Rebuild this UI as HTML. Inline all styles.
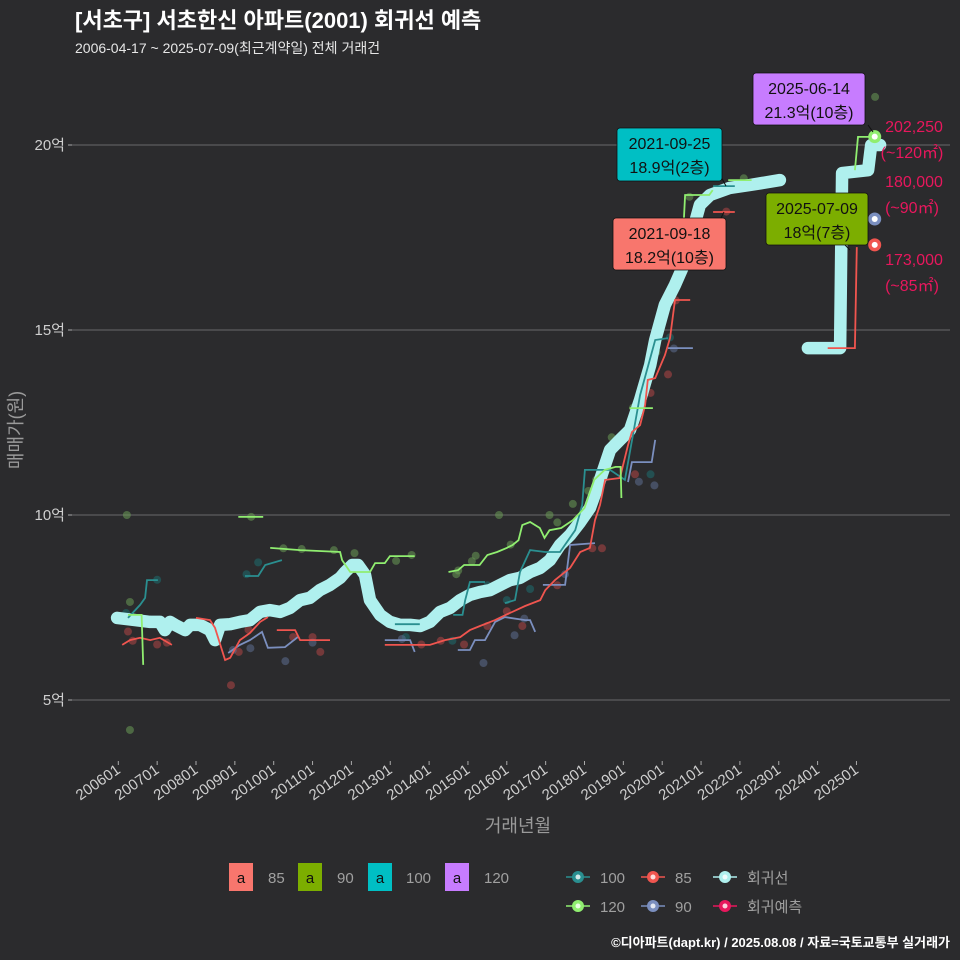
<!DOCTYPE html>
<html><head><meta charset="utf-8">
<style>
html,body{margin:0;padding:0;background:#2b2b2d;}
svg{display:block;font-family:"Liberation Sans","Noto Sans CJK KR",sans-serif;}
</style></head>
<body>
<svg id="chart" width="960" height="960" viewBox="0 0 960 960" xmlns="http://www.w3.org/2000/svg">
<rect x="0" y="0" width="960" height="960" fill="#2b2b2d"/>
<text x="75" y="28" fill="#ffffff" font-size="22" font-weight="bold">[서초구] 서초한신 아파트(2001) 회귀선 예측</text>
<text x="75" y="53" fill="#e6e6e6" font-size="14">2006-04-17 ~ 2025-07-09(최근계약일) 전체 거래건</text>
<g id="grid"></g>
<g id="series"></g>
<g id="ann"></g>
<text transform="translate(22,430) rotate(-90)" text-anchor="middle" fill="#9a9a9a" font-size="18">매매가(원)</text>
<text x="518" y="832" text-anchor="middle" fill="#9a9a9a" font-size="18">거래년월</text>
<g>
 <rect x="229" y="863" width="24" height="28" fill="#f8766d"/>
 <text x="241" y="883" text-anchor="middle" font-size="15" fill="#111">a</text>
 <text x="268" y="883" font-size="15" fill="#a0a0a0">85</text>
 <rect x="298" y="863" width="24" height="28" fill="#7cae00"/>
 <text x="310" y="883" text-anchor="middle" font-size="15" fill="#111">a</text>
 <text x="337" y="883" font-size="15" fill="#a0a0a0">90</text>
 <rect x="368" y="863" width="24" height="28" fill="#00bfc4"/>
 <text x="380" y="883" text-anchor="middle" font-size="15" fill="#111">a</text>
 <text x="406" y="883" font-size="15" fill="#a0a0a0">100</text>
 <rect x="445" y="863" width="24" height="28" fill="#c77cff"/>
 <text x="457" y="883" text-anchor="middle" font-size="15" fill="#111">a</text>
 <text x="484" y="883" font-size="15" fill="#a0a0a0">120</text>
</g>
<g id="legend2"></g>
<text x="950" y="947" text-anchor="end" fill="#ffffff" font-size="13" font-weight="bold">©디아파트(dapt.kr) / 2025.08.08 / 자료=국토교통부 실거래가</text>
</svg>
<script>
// ---- data ----
const yTicks = [5, 10, 15, 20];
const yTickLabels = ['5억', '10억', '15억', '20억'];
const xTickYears = [2006,2007,2008,2009,2010,2011,2012,2013,2014,2015,2016,2017,2018,2019,2020,2021,2022,2023,2024,2025];
const xTickLabels = ['200601','200701','200801','200901','201001','201101','201201','201301','201401','201501','201601','201701','201801','201901','202001','202101','202201','202301','202401','202501'];

const regT1 = [2005.97,2006.43,2006.82,2007.07,2007.20,2007.33,2007.46,2007.72,2007.85,2008.10,2008.36,2008.49,2008.62,2008.88,2009.13,2009.39,2009.65,2009.90,2010.16,2010.42,2010.68,2010.93,2011.19,2011.45,2011.71,2011.84,2012.02,2012.17,2012.35,2012.48,2012.74,2012.99,2013.25,2013.51,2013.77,2014.02,2014.28,2014.54,2014.80,2015.05,2015.31,2015.57,2015.83,2016.08,2016.34,2016.60,2016.86,2017.11,2017.37,2017.63,2017.89,2018.14,2018.40,2018.66,2018.91,2019.17,2019.43,2019.69,2019.82,2020.07,2020.33,2020.59,2020.72,2020.97,2021.23,2021.74,2022.26,2023.03];
const regV1 = [7.22,7.16,7.11,7.11,6.89,7.11,7.03,6.89,7.03,7.03,6.89,6.62,7.03,7.05,7.11,7.16,7.38,7.43,7.38,7.49,7.70,7.76,7.97,8.11,8.30,8.46,8.65,8.65,8.38,7.70,7.30,7.11,7.03,7.03,7.00,7.11,7.38,7.49,7.70,7.84,7.92,7.97,8.11,8.24,8.30,8.46,8.57,8.78,9.19,9.46,9.81,10.19,10.95,11.76,12.03,12.30,13.11,14.05,14.73,15.68,16.22,16.84,17.43,18.38,18.65,18.84,18.92,19.05];
const regT2 = [2023.75,2024.58,2024.63,2025.30,2025.38,2025.61];
const regV2 = [14.51,14.51,19.24,19.32,20.0,20.0];

const red85 = [
 [[2006.1,2006.3,2006.56,2006.82,2007.07,2007.38],[6.49,6.62,6.68,6.62,6.68,6.49]],
 [[2008.0,2008.36,2008.49,2008.75,2008.88,2009.13,2009.39,2009.65,2009.85],[7.22,7.16,6.95,6.08,6.14,6.62,6.81,7.11,7.24]],
 [[2010.08,2010.55,2010.68,2011.45],[6.89,6.89,6.62,6.62]],
 [[2012.86,2014.02,2014.41,2014.80,2015.05,2015.31,2015.70,2016.08,2016.47,2016.86,2016.99,2017.24,2017.63,2017.89,2018.14,2018.27,2018.40,2018.53,2018.91,2019.12,2019.22,2019.43,2019.56,2019.63,2019.82,2020.07,2020.20,2020.33,2020.72],[6.49,6.49,6.62,6.70,6.89,7.0,7.16,7.35,7.54,7.70,7.97,8.24,8.57,9.0,9.11,9.86,10.27,10.95,11.0,11.89,12.24,12.43,12.97,13.65,13.70,14.32,14.78,15.81,15.81]],
 [[2021.31,2021.87],[18.19,18.19]],
 [[2024.26,2024.96,2025.01],[14.51,14.51,17.24]]
];
const green120 = [
 [[2006.25,2006.6,2006.64],[7.30,7.30,5.95]],
 [[2009.09,2009.73],[9.95,9.95]],
 [[2009.91,2010.68,2011.71,2011.76,2011.97,2012.48,2012.61,2012.86,2012.99,2013.63],[9.11,9.05,9.0,8.78,8.46,8.46,8.70,8.70,8.89,8.89]],
 [[2014.5,2014.75,2014.9,2015.3,2015.5,2015.75,2016.0,2016.15,2016.3,2016.4,2016.6,2016.85,2016.97,2017.1,2017.4,2017.7,2018.0,2018.25,2018.52,2018.8,2018.93,2018.95],[8.46,8.51,8.65,8.65,8.92,9.0,9.11,9.19,9.32,9.73,9.81,9.65,9.38,9.59,9.65,9.86,10.19,10.95,11.22,11.30,11.30,10.46]],
 [[2019.16,2019.76],[12.89,12.89]],
 [[2020.5,2020.59,2021.21,2021.3],[16.76,18.65,18.65,18.78]],
 [[2021.7,2022.3],[19.05,19.05]],
 [[2024.96,2025.04,2025.42],[19.32,20.22,20.22]]
];
const teal100 = [
 [[2006.25,2006.56,2006.69,2006.74,2007.02],[7.22,7.57,7.76,8.24,8.24]],
 [[2009.26,2009.60,2009.78,2010.21],[8.35,8.35,8.65,8.78]],
 [[2013.12,2013.76],[7.05,7.05]],
 [[2014.62,2014.86,2014.93,2015.05,2015.44],[7.30,7.30,7.70,8.19,8.19]],
 [[2015.95,2016.21,2016.34,2016.60,2016.99,2017.37,2017.76,2017.94,2018.01,2018.66,2019.04,2019.43,2019.82,2020.15],[7.62,7.70,8.46,9.05,9.0,9.0,9.59,10.27,11.22,11.22,10.95,13.24,14.73,14.78]],
 [[2021.31,2021.87],[18.89,18.89]]
];
const blue90 = [
 [[2008.83,2009.13,2009.39,2009.70,2009.85,2010.29,2010.62],[6.27,6.49,6.62,6.84,6.41,6.43,6.70]],
 [[2012.86,2013.51,2013.63],[6.62,6.62,6.30]],
 [[2014.74,2015.05,2015.18,2015.44,2015.70,2015.95,2016.47,2016.60,2016.73],[6.35,6.35,6.62,6.62,7.11,7.24,7.16,7.16,6.84]],
 [[2016.93,2017.5,2017.63,2018.27],[8.11,8.11,9.19,9.24]],
 [[2019.12,2019.22,2019.73,2019.82],[10.89,11.43,11.43,12.03]],
 [[2020.15,2020.79],[14.51,14.51]]
];
const greenDotsT = [2006.22,2006.3,2006.3,2009.42,2010.25,2010.72,2011.55,2012.08,2012.3,2013.15,2013.55,2014.7,2014.75,2015.1,2015.2,2015.8,2016.1,2016.45,2017.1,2017.3,2017.7,2018.1,2018.3,2018.7,2019.25,2019.35,2019.85,2020.7,2022.1,2025.48];
const greenDotsV = [10.0,4.19,7.65,9.95,9.1,9.08,9.05,8.97,8.55,8.76,8.92,8.4,8.5,8.75,8.9,10.0,9.2,8.4,10.0,9.8,10.3,10.65,10.95,12.1,12.9,13.0,14.4,18.6,19.1,21.3];
const redDotsT = [2006.25,2006.37,2007.0,2007.25,2008.9,2009.1,2009.35,2010.5,2011.0,2011.2,2013.8,2014.3,2014.9,2015.5,2016.0,2016.4,2017.3,2018.2,2018.45,2019.3,2019.7,2020.15,2020.35,2021.65];
const redDotsV = [6.85,6.6,6.5,6.55,5.4,6.3,6.9,6.7,6.7,6.3,6.5,6.6,6.5,7.0,7.4,7.0,8.1,9.1,9.1,11.1,13.3,13.8,15.8,18.2];
const tealDotsT = [2006.2,2007.0,2009.3,2009.6,2013.4,2014.6,2015.5,2016.0,2016.6,2017.4,2018.3,2018.5,2019.7,2020.2,2021.6];
const tealDotsV = [7.35,8.25,8.4,8.72,6.7,6.6,8.1,7.7,8.0,9.3,10.6,11.0,11.1,14.8,18.85];
const blueDotsT = [2008.95,2009.4,2010.3,2011.0,2013.3,2015.4,2016.2,2016.45,2017.5,2019.4,2019.8,2020.3];
const blueDotsV = [6.35,6.4,6.05,6.55,6.65,6.0,6.75,7.2,8.4,10.9,10.8,14.5];

const predT = [2025.47,2025.47,2025.47];
const predV = [20.225,18.0,17.3];
const predColors = ['#90ee70','#7b8fbf','#f0554f'];
const predText1 = ['202,250','180,000','173,000'];
const predText2 = ['(~120㎡)','(~90㎡)','(~85㎡)'];

// ---- scales ----
const X0 = 118.3, XS = 38.85;
function xs(t){ return X0 + (t - 2006) * XS; }
function ys(v){ return 885 - 37 * v; }

const NS = 'http://www.w3.org/2000/svg';
function mk(tag, parent, attrs){
  const e = document.createElementNS(NS, tag);
  for (const k in attrs) e.setAttribute(k, attrs[k]);
  parent.appendChild(e);
  return e;
}
const grid = document.getElementById('grid');
const series = document.getElementById('series');
const ann = document.getElementById('ann');

yTicks.forEach((v,i)=>{
  const l = mk('line', grid, {x1:72, x2:950, y1:ys(v), y2:ys(v), stroke:'#6a6a6a', 'stroke-width':1});
  
  
  const tk = mk('line', grid, {x1:68, x2:72, y1:ys(v), y2:ys(v), stroke:'#aaa', 'stroke-width':1});
  
  
  const t = mk('text', grid, {x:65, y:ys(v)+5, 'text-anchor':'end', fill:'#cfcfcf', 'font-size':15});
  t.textContent = yTickLabels[i];
  
  
});
xTickYears.forEach((yr,i)=>{
  const x = xs(yr);
  const tk = mk('line', grid, {x1:x, x2:x, y1:761, y2:765, stroke:'#aaa', 'stroke-width':1});
  
  
  const t = mk('text', grid, {transform:'translate('+(x+3)+',772) rotate(-35)', 'text-anchor':'end', fill:'#cfcfcf', 'font-size':15});
  t.textContent = xTickLabels[i];
  
  
});

function pathD(T, V){ return T.map((t,i)=>(i?'L':'M')+xs(t).toFixed(1)+','+ys(V[i]).toFixed(1)).join(''); }

function dots(T, V, color, name){
  T.forEach((t,i)=>{
    const c = mk('circle', series, {cx:xs(t), cy:ys(V[i]), r:4, fill:color, opacity:0.55});
    
    
  });
}
dots(greenDotsT, greenDotsV, '#6a9a55', 'dot-120');
dots(redDotsT, redDotsV, '#b04545', 'dot-85');
dots(tealDotsT, tealDotsV, '#1d6e70', 'dot-100');
dots(blueDotsT, blueDotsV, '#5c6d90', 'dot-90');

[[regT1,regV1],[regT2,regV2]].forEach(([T,V])=>{
  const p = mk('path', series, {d:pathD(T,V), fill:'none', stroke:'#aff0ee', 'stroke-width':12.5, 'stroke-linecap':'round', 'stroke-linejoin':'round'});
  
  
});

function lines(segs, color, name){
  segs.forEach(([T,V])=>{
    const p = mk('path', series, {d:pathD(T,V), fill:'none', stroke:color, 'stroke-width':1.8});
    
    
  });
}
lines(teal100, '#2a8f90', 'line-100');
lines(blue90, '#7b8fbf', 'line-90');
lines(red85, '#f0554f', 'line-85');
lines(green120, '#90ee70', 'line-120');

predT.forEach((t,i)=>{
  const c = mk('circle', series, {cx:xs(t), cy:ys(predV[i]), r:6.5, fill:predColors[i]});
  
  
  const c2 = mk('circle', series, {cx:xs(t), cy:ys(predV[i]), r:3, fill:'#ffffff'});
  
  
});
const predLabelY = [[132,158],[187,213],[265,291]];
predText1.forEach((s,i)=>{
  const a = mk('text', ann, {x:914, y:predLabelY[i][0], 'text-anchor':'middle', fill:'#e8175d', 'font-size':16});
  a.textContent = s;
  
  
  const b = mk('text', ann, {x:912, y:predLabelY[i][1], 'text-anchor':'middle', fill:'#e8175d', 'font-size':16});
  b.textContent = predText2[i];
  
  
});

const boxes = [
 {x:753,y:73,w:112,h:52,fill:'#c77cff',l1:'2025-06-14',l2:'21.3억(10층)',lx:868,ly:125,px:873,py:132,name:'annotation-max-120'},
 {x:617,y:128,w:105,h:53,fill:'#00bfc4',l1:'2021-09-25',l2:'18.9억(2층)',lx:720,ly:175,px:726,py:186,name:'annotation-max-100'},
 {x:613,y:218,w:113,h:52,fill:'#f8766d',l1:'2021-09-18',l2:'18.2억(10층)',lx:720,ly:220,px:724,py:212,name:'annotation-max-85'},
 {x:766,y:193,w:102,h:52,fill:'#7cae00',l1:'2025-07-09',l2:'18억(7층)',lx:845,ly:245,px:850,py:250,name:'annotation-latest-90'}
];
boxes.forEach(b=>{
  const ln = mk('line', ann, {x1:b.lx, y1:b.ly, x2:b.px, y2:b.py, stroke:'#111', 'stroke-width':1});
  
  
  const r = mk('rect', ann, {x:b.x, y:b.y, width:b.w, height:b.h, rx:3, fill:b.fill, stroke:'#111', 'stroke-width':0.8});
  
  
  const t1 = mk('text', ann, {x:b.x+b.w/2, y:b.y+21, 'text-anchor':'middle', fill:'#111', 'font-size':16});
  t1.textContent = b.l1;
  
  
  const t2 = mk('text', ann, {x:b.x+b.w/2, y:b.y+45, 'text-anchor':'middle', fill:'#111', 'font-size':16});
  t2.textContent = b.l2;
  
  
});

const lg = document.getElementById('legend2');
const legItems = [
 {x:578,y:877,c:'#2a8f90',t:'100'},{x:653,y:877,c:'#f0554f',t:'85'},{x:725,y:877,c:'#aff0ee',t:'회귀선'},
 {x:578,y:906,c:'#90ee70',t:'120'},{x:653,y:906,c:'#7b8fbf',t:'90'},{x:725,y:906,c:'#e8175d',t:'회귀예측'}
];
legItems.forEach(it=>{
  const l = mk('line', lg, {x1:it.x-12, x2:it.x+12, y1:it.y, y2:it.y, stroke:it.c, 'stroke-width':1.5});
  
  
  const c = mk('circle', lg, {cx:it.x, cy:it.y, r:6, fill:it.c});
  
  
  const c2 = mk('circle', lg, {cx:it.x, cy:it.y, r:2.5, fill:'#ffffff', opacity:0.8});
  
  
  const t = mk('text', lg, {x:it.x+22, y:it.y+6, fill:'#a0a0a0', 'font-size':15});
  t.textContent = it.t;
  
  
});
</script>
</body></html>
